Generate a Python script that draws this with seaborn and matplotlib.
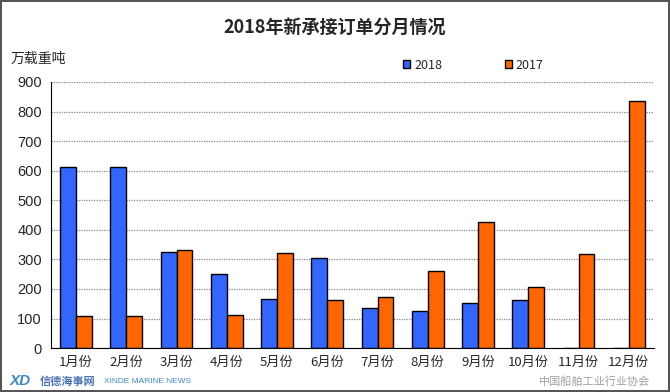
import matplotlib
matplotlib.use("Agg")
import matplotlib.pyplot as plt
import seaborn as sns
import pandas as pd

months = ["1月份", "2月份", "3月份", "4月份", "5月份", "6月份",
          "7月份", "8月份", "9月份", "10月份", "11月份", "12月份"]
orders_2018 = [613, 613, 324, 249, 166, 303, 135, 126, 151, 164, 0, 0]
orders_2017 = [109, 109, 331, 112, 320, 164, 172, 260, 426, 206, 317, 834]
years = ["2018", "2017"]
colors = ["#3366FF", "#FF6600"]

df = pd.DataFrame({
    "month": months * 2,
    "value": orders_2018 + orders_2017,
    "year": [years[0]] * len(months) + [years[1]] * len(months),
})

sns.set_style("white")
plt.rcParams["font.family"] = ["Noto Sans CJK SC", "DejaVu Sans"]

fig = plt.figure(figsize=(6.7, 3.92), dpi=100)
fig.patch.set_edgecolor("#555555")
fig.patch.set_linewidth(1.5)
ax = fig.add_axes([0.076, 0.112, 0.9, 0.679])

sns.barplot(data=df, x="month", y="value", hue="year", palette=colors,
            saturation=1, width=0.63, gap=0, edgecolor="black", linewidth=1,
            ax=ax, legend=True)

ax.set_ylim(0, 900)
ax.set_xlim(-0.5, 11.5)
ax.set_yticks(range(0, 901, 100))
ax.yaxis.grid(True, linestyle=(0, (1, 1)), color="#888888", linewidth=0.9)
ax.set_axisbelow(True)
for s in ["top", "right"]:
    ax.spines[s].set_visible(False)
ax.spines["left"].set_color("black")
ax.spines["bottom"].set_color("black")
ax.set_xlabel("")
ax.set_ylabel("")

ax.set_xticks([i - 0.5 for i in range(13)], minor=True)
ax.tick_params(axis="x", which="minor", length=4, direction="out", color="black")
ax.tick_params(axis="x", which="major", length=0, pad=6, labelsize=9.5)
ax.tick_params(axis="y", length=3, color="black", labelsize=10.5)
for lab in ax.get_yticklabels():
    lab.set_family(["Liberation Sans"])

leg = ax.legend(loc="upper left", bbox_to_anchor=(0.565, 1.13), ncol=2,
                frameon=False, fontsize=9, handlelength=0.6, handleheight=0.6,
                columnspacing=5, handletextpad=0.3)

fig.text(0.5, 0.93, "2018年新承接订单分月情况", ha="center", va="center",
         fontsize=13, fontweight="bold")
fig.text(0.015, 0.85, "万载重吨", ha="left", va="center", fontsize=10)

# watermarks, kept in the bottom strip below the month labels
fig.text(0.015, 0.028, "XD", ha="left", va="center", fontsize=11, fontweight="bold",
         color="#1e73be", alpha=0.85, style="italic", family=["Liberation Sans"])
fig.text(0.06, 0.028, "信德海事网", ha="left", va="center", fontsize=8,
         color="#1e4fa0", alpha=0.8, fontweight="bold")
fig.text(0.155, 0.028, "XINDE MARINE NEWS", ha="left", va="center", fontsize=6,
         color="#1e73be", alpha=0.85, family=["Liberation Sans"])
fig.text(0.97, 0.028, "中国船舶工业行业协会", ha="right", va="center", fontsize=8,
         color="#777777", alpha=0.7)

fig.savefig("out.png", dpi=100)
